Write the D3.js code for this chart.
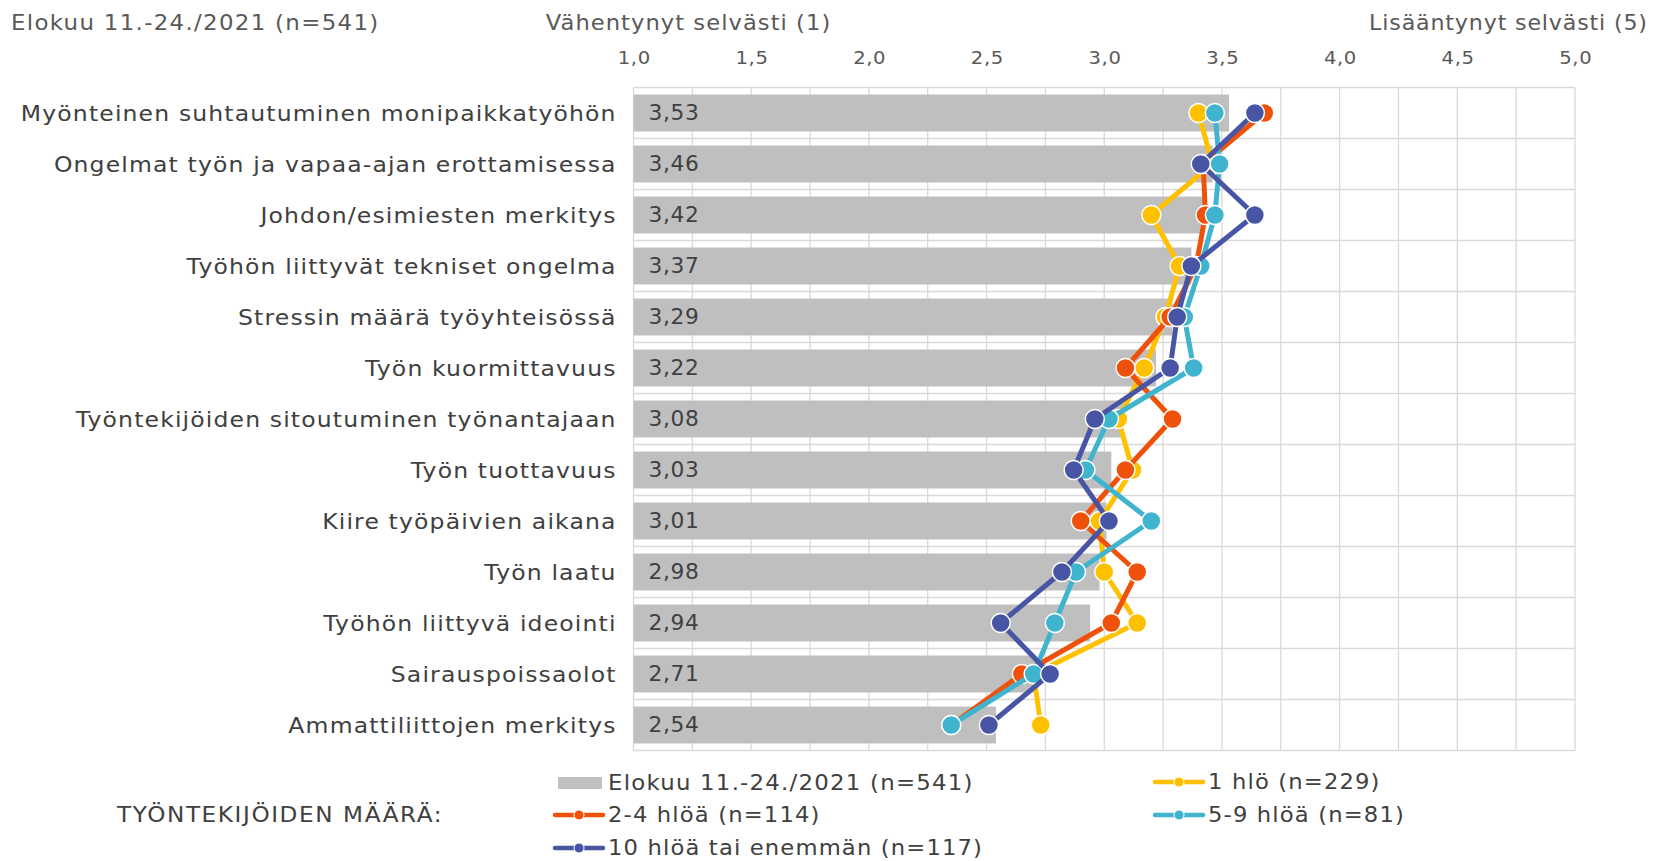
<!DOCTYPE html>
<html>
<head>
<meta charset="utf-8">
<script src="https://cdn.jsdelivr.net/npm/d3@7"></script>
<style>
  body { margin: 0; background: #fff; }
  svg { display: block; font-family: "DejaVu Sans", Verdana, sans-serif; }
</style>
</head>
<body>
<svg id="chart" width="1664" height="861"></svg>
<script>
// categories, top to bottom
const categories = [
  "Myönteinen suhtautuminen monipaikkatyöhön",
  "Ongelmat työn ja vapaa-ajan erottamisessa",
  "Johdon/esimiesten merkitys",
  "Työhön liittyvät tekniset ongelma",
  "Stressin määrä työyhteisössä",
  "Työn kuormittavuus",
  "Työntekijöiden sitoutuminen työnantajaan",
  "Työn tuottavuus",
  "Kiire työpäivien aikana",
  "Työn laatu",
  "Työhön liittyvä ideointi",
  "Sairauspoissaolot",
  "Ammattiliittojen merkitys"
];

// all respondents (bars)
const overall = [3.53, 3.46, 3.42, 3.37, 3.29, 3.22, 3.08, 3.03, 3.01, 2.98, 2.94, 2.71, 2.54];

// by number of employees (lines)
const oneP    = [3.40, 3.46, 3.20, 3.32, 3.26, 3.17, 3.06, 3.12, 2.98, 3.00, 3.14, 2.70, 2.73];
const twoFour = [3.68, 3.42, 3.43, 3.39, 3.28, 3.09, 3.29, 3.09, 2.90, 3.14, 3.03, 2.65, 2.35];
const fiveNine= [3.47, 3.49, 3.47, 3.41, 3.34, 3.38, 3.02, 2.92, 3.20, 2.88, 2.79, 2.70, 2.35];
const tenPlus = [3.64, 3.41, 3.64, 3.37, 3.31, 3.28, 2.96, 2.87, 3.02, 2.82, 2.56, 2.77, 2.51];

const ticks = [1, 1.5, 2, 2.5, 3, 3.5, 4, 4.5, 5];

const barName = "Elokuu 11.-24./2021 (n=541)";
const series = [
  {name: "1 hlö (n=229)",             values: oneP,     color: "#FFC000"},
  {name: "2-4 hlöä (n=114)",          values: twoFour,  color: "#F0510A"},
  {name: "5-9 hlöä (n=81)",           values: fiveNine, color: "#40B3CE"},
  {name: "10 hlöä tai enemmän (n=117)", values: tenPlus, color: "#4855A5"}
];

const fi = d3.formatLocale({decimal: ",", thousands: " ", grouping: [3], currency: ["", " €"]});
const f1 = fi.format(".1f"), f2 = fi.format(".2f");

const svg = d3.select("#chart");

const x = d3.scaleLinear().domain([1, 5]).range([633.5, 1575]);
const y = d3.scaleBand().domain(categories).range([87.5, 750.5])
  .paddingInner(0.275).paddingOuter(0.1375);

const textDark = "#404040", textGray = "#595959", grid = "#D9D9D9";

// the original text is set wide (Verdana-like): a little stretch + tracking
const place = (px, py, sx) => `translate(${px},${py}) scale(${sx},1)`;

// gridlines
svg.append("g").selectAll("line")
  .data(d3.range(1, 5.001, 0.25))
  .join("line")
    .attr("x1", d => x(d)).attr("x2", d => x(d))
    .attr("y1", 87.5).attr("y2", 750.5)
    .attr("stroke", grid).attr("stroke-width", 1.3);

const step = y.step();
svg.append("g").selectAll("line")
  .data(d3.range(categories.length + 1))
  .join("line")
    .attr("x1", x(1)).attr("x2", x(5))
    .attr("y1", i => 87.5 + i * step).attr("y2", i => 87.5 + i * step)
    .attr("stroke", grid).attr("stroke-width", 1.3);

// top axis
const axis = svg.append("g")
  .attr("transform", "translate(0,64)")
  .call(d3.axisTop(x).tickValues(ticks).tickFormat(f1).tickSize(0).tickPadding(0));
axis.select(".domain").remove();
axis.selectAll("text")
  .attr("font-family", "DejaVu Sans, Verdana, sans-serif")
  .attr("font-size", 18.5)
  .attr("letter-spacing", 0.6)
  .attr("transform", "translate(0.3,0) scale(1.06,1)")
  .attr("fill", textGray);

// bars
svg.append("g").selectAll("rect")
  .data(overall)
  .join("rect")
    .attr("x", x(1))
    .attr("y", (d, i) => y(categories[i]))
    .attr("width", d => x(d) - x(1))
    .attr("height", y.bandwidth())
    .attr("fill", "#BFBFBF");

svg.append("g").selectAll("text")
  .data(overall)
  .join("text")
    .attr("transform", (d, i) => place(x(1) + 15, y(categories[i]) + y.bandwidth() / 2, 1.06))
    .attr("dy", "0.36em")
    .attr("font-size", 20.5)
    .attr("letter-spacing", 0.65)
    .attr("fill", textDark)
    .text(d => f2(d));

// category labels
svg.append("g").selectAll("text")
  .data(categories)
  .join("text")
    .attr("transform", d => place(616.6, y(d) + y.bandwidth() / 2, 1.094))
    .attr("dy", "0.36em")
    .attr("text-anchor", "end")
    .attr("font-size", 21.5)
    .attr("letter-spacing", 1.05)
    .attr("fill", textDark)
    .text(d => d);

// lines with markers
const cy = i => y(categories[i]) + y.bandwidth() / 2;
const line = d3.line().x(d => x(d)).y((d, i) => cy(i));

series.forEach(s => {
  const g = svg.append("g");
  g.append("path")
    .attr("d", line(s.values))
    .attr("fill", "none")
    .attr("stroke", s.color)
    .attr("stroke-width", 5)
    .attr("stroke-linejoin", "round");
  g.selectAll("circle")
    .data(s.values)
    .join("circle")
      .attr("cx", d => x(d))
      .attr("cy", (d, i) => cy(i))
      .attr("r", 9.5)
      .attr("fill", s.color)
      .attr("stroke", "#fff")
      .attr("stroke-width", 1.5);
});

// titles
const title = svg.append("g").attr("font-size", 20.5).attr("fill", textGray);
title.append("text").attr("transform", place(11, 23, 1.118)).attr("dy", "0.36em")
  .attr("letter-spacing", 1.16).text(barName);
title.append("text").attr("transform", place(688.5, 23, 1.103)).attr("dy", "0.36em")
  .attr("text-anchor", "middle").attr("letter-spacing", 0.95)
  .text("Vähentynyt selvästi (1)");
title.append("text").attr("transform", place(1647.8, 23, 1.083)).attr("dy", "0.36em")
  .attr("text-anchor", "end").attr("letter-spacing", 0.75)
  .text("Lisääntynyt selvästi (5)");

// legend
const leg = svg.append("g").attr("font-size", 20.5).attr("fill", textDark);
leg.append("text").attr("transform", place(117, 815, 1.13)).attr("dy", "0.36em")
  .attr("letter-spacing", 1.4).text("TYÖNTEKIJÖIDEN MÄÄRÄ:");

leg.append("rect").attr("x", 558).attr("y", 777).attr("width", 44).attr("height", 12).attr("fill", "#BFBFBF");
leg.append("text").attr("transform", place(608, 783, 1.115)).attr("dy", "0.36em")
  .attr("letter-spacing", 1.1).text(barName);

const legPos = [[1155, 782], [555, 815], [1155, 815], [555, 848]];
series.forEach((s, i) => {
  const [lx, ly] = legPos[i];
  leg.append("line").attr("x1", lx).attr("x2", lx + 48).attr("y1", ly).attr("y2", ly)
    .attr("stroke", s.color).attr("stroke-width", 4.5).attr("stroke-linecap", "round");
  leg.append("circle").attr("cx", lx + 24).attr("cy", ly).attr("r", 5)
    .attr("fill", s.color).attr("stroke", "#fff").attr("stroke-width", 1);
  leg.append("text").attr("transform", place(lx + 53, ly, 1.105)).attr("dy", "0.36em")
    .attr("letter-spacing", 1.05).text(s.name);
});
</script>
</body>
</html>
